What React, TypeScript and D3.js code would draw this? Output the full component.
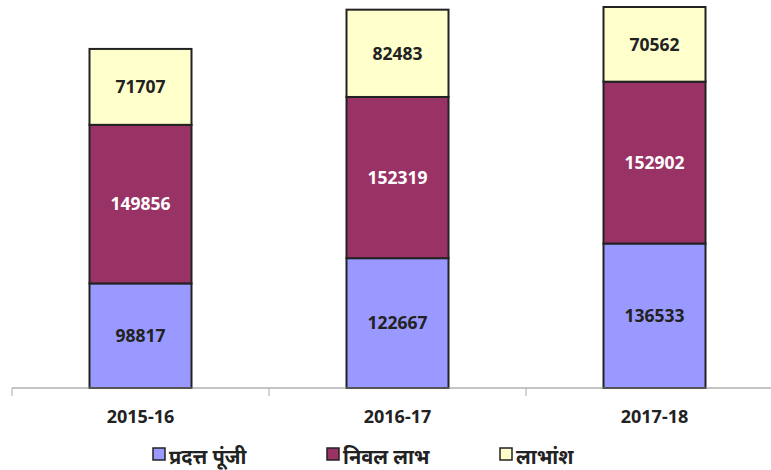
import * as d3 from "d3";

const years = ["2015-16", "2016-17", "2017-18"];
const paidCapital = [98817, 122667, 136533];
const netProfit = [149856, 152319, 152902];
const dividend = [71707, 82483, 70562];
const seriesNames = ["प्रदत्त पूंजी", "निवल लाभ", "लाभांश"];
const seriesColors = ["#9999FF", "#993366", "#FFFFCC"];
const labelColors = ["#222222", "#ffffff", "#222222"];

const width = 771;
const height = 470;
const fontFamily = "'Open Sans', 'Noto Sans', 'Noto Sans Devanagari', sans-serif";

export default function App() {
  const x = d3.scaleBand().domain(years).range([12, 783]).paddingInner(0).paddingOuter(0);
  const y = d3.scaleLinear().domain([0, 360000]).range([388, 7]);
  const barWidth = 102;

  const table = years.map((year, i) => ({
    year,
    s0: paidCapital[i],
    s1: netProfit[i],
    s2: dividend[i],
  }));
  const stacked = d3.stack<(typeof table)[number]>().keys(["s0", "s1", "s2"])(table);

  return (
    <svg
      width={width}
      height={height}
      style={{ position: "fixed", left: 0, top: 0, background: "#fff" }}
      fontFamily={fontFamily}
    >
      {stacked.map((layer, si) => (
        <g key={layer.key}>
          {layer.map((d, i) => {
            const cx = x(years[i])! + x.bandwidth() / 2;
            const top = y(d[1]);
            const bottom = y(d[0]);
            return (
              <g key={years[i]}>
                <rect
                  x={cx - barWidth / 2}
                  y={top}
                  width={barWidth}
                  height={bottom - top}
                  fill={seriesColors[si]}
                  stroke="#222"
                  strokeWidth={2}
                />
                <text
                  x={cx}
                  y={(top + bottom) / 2}
                  dy="0.36em"
                  textAnchor="middle"
                  fontSize={17.5}
                  fontWeight="bold"
                  fill={labelColors[si]}
                >
                  {d[1] - d[0]}
                </text>
              </g>
            );
          })}
        </g>
      ))}

      <line x1={12} x2={width} y1={388} y2={388} stroke="#888" strokeWidth={1} />
      {d3.range(years.length + 1).map((i) => {
        const tx = 12 + i * x.step();
        return <line key={i} x1={tx} x2={tx} y1={388} y2={396} stroke="#aaa" />;
      })}
      {years.map((year) => (
        <text
          key={year}
          x={x(year)! + x.bandwidth() / 2}
          y={423}
          textAnchor="middle"
          fontSize={18}
          fontWeight="bold"
          fill="#222"
        >
          {year}
        </text>
      ))}

      {seriesNames.map((name, i) => {
        const lx = [153, 327, 500][i];
        return (
          <g key={name}>
            <rect x={lx} y={448} width={12} height={12} fill={seriesColors[i]} stroke="#222" strokeWidth={1.5} />
            <text x={lx + 16} y={464} fontSize={20} fontWeight="bold" fill="#222">
              {name}
            </text>
          </g>
        );
      })}
    </svg>
  );
}
